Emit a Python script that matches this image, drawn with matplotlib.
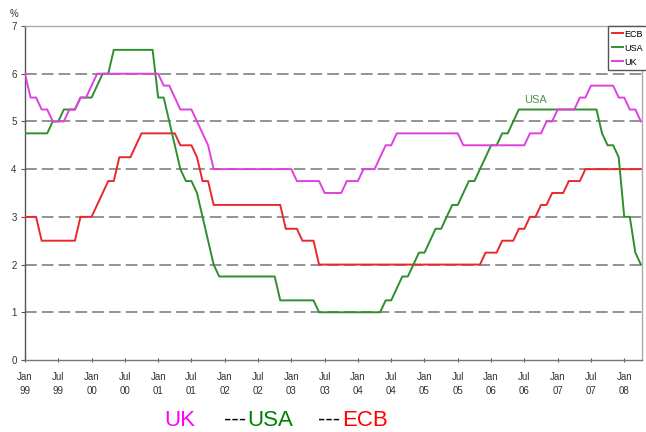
import matplotlib
matplotlib.use("Agg")
import numpy as np
import matplotlib.pyplot as plt

plt.rcParams['font.family'] = ['Liberation Sans', 'DejaVu Sans']

# monthly policy rates, Jan 1999 .. Apr 2008 (%)
ecb = [
    3.0, 3.0, 3.0, 2.5, 2.5, 2.5, 2.5, 2.5, 2.5, 2.5, 3.0, 3.0,            # 1999
    3.0, 3.25, 3.5, 3.75, 3.75, 4.25, 4.25, 4.25, 4.5, 4.75, 4.75, 4.75,   # 2000
    4.75, 4.75, 4.75, 4.75, 4.5, 4.5, 4.5, 4.25, 3.75, 3.75, 3.25, 3.25,   # 2001
    3.25, 3.25, 3.25, 3.25, 3.25, 3.25, 3.25, 3.25, 3.25, 3.25, 3.25, 2.75,  # 2002
    2.75, 2.75, 2.5, 2.5, 2.5, 2.0, 2.0, 2.0, 2.0, 2.0, 2.0, 2.0,          # 2003
    2.0, 2.0, 2.0, 2.0, 2.0, 2.0, 2.0, 2.0, 2.0, 2.0, 2.0, 2.0,            # 2004
    2.0, 2.0, 2.0, 2.0, 2.0, 2.0, 2.0, 2.0, 2.0, 2.0, 2.0, 2.25,           # 2005
    2.25, 2.25, 2.5, 2.5, 2.5, 2.75, 2.75, 3.0, 3.0, 3.25, 3.25, 3.5,      # 2006
    3.5, 3.5, 3.75, 3.75, 3.75, 4.0, 4.0, 4.0, 4.0, 4.0, 4.0, 4.0,         # 2007
    4.0, 4.0, 4.0, 4.0,                                                    # 2008
]
usa = [
    4.75, 4.75, 4.75, 4.75, 4.75, 5.0, 5.0, 5.25, 5.25, 5.25, 5.5, 5.5,    # 1999
    5.5, 5.75, 6.0, 6.0, 6.5, 6.5, 6.5, 6.5, 6.5, 6.5, 6.5, 6.5,           # 2000
    5.5, 5.5, 5.0, 4.5, 4.0, 3.75, 3.75, 3.5, 3.0, 2.5, 2.0, 1.75,         # 2001
    1.75, 1.75, 1.75, 1.75, 1.75, 1.75, 1.75, 1.75, 1.75, 1.75, 1.25, 1.25,  # 2002
    1.25, 1.25, 1.25, 1.25, 1.25, 1.0, 1.0, 1.0, 1.0, 1.0, 1.0, 1.0,       # 2003
    1.0, 1.0, 1.0, 1.0, 1.0, 1.25, 1.25, 1.5, 1.75, 1.75, 2.0, 2.25,       # 2004
    2.25, 2.5, 2.75, 2.75, 3.0, 3.25, 3.25, 3.5, 3.75, 3.75, 4.0, 4.25,    # 2005
    4.5, 4.5, 4.75, 4.75, 5.0, 5.25, 5.25, 5.25, 5.25, 5.25, 5.25, 5.25,   # 2006
    5.25, 5.25, 5.25, 5.25, 5.25, 5.25, 5.25, 5.25, 4.75, 4.5, 4.5, 4.25,  # 2007
    3.0, 3.0, 2.25, 2.0,                                                   # 2008
]
uk = [
    6.0, 5.5, 5.5, 5.25, 5.25, 5.0, 5.0, 5.0, 5.25, 5.25, 5.5, 5.5,        # 1999
    5.75, 6.0, 6.0, 6.0, 6.0, 6.0, 6.0, 6.0, 6.0, 6.0, 6.0, 6.0,           # 2000
    6.0, 5.75, 5.75, 5.5, 5.25, 5.25, 5.25, 5.0, 4.75, 4.5, 4.0, 4.0,      # 2001
    4.0, 4.0, 4.0, 4.0, 4.0, 4.0, 4.0, 4.0, 4.0, 4.0, 4.0, 4.0,            # 2002
    4.0, 3.75, 3.75, 3.75, 3.75, 3.75, 3.5, 3.5, 3.5, 3.5, 3.75, 3.75,     # 2003
    3.75, 4.0, 4.0, 4.0, 4.25, 4.5, 4.5, 4.75, 4.75, 4.75, 4.75, 4.75,     # 2004
    4.75, 4.75, 4.75, 4.75, 4.75, 4.75, 4.75, 4.5, 4.5, 4.5, 4.5, 4.5,     # 2005
    4.5, 4.5, 4.5, 4.5, 4.5, 4.5, 4.5, 4.75, 4.75, 4.75, 5.0, 5.0,         # 2006
    5.25, 5.25, 5.25, 5.25, 5.5, 5.5, 5.75, 5.75, 5.75, 5.75, 5.75, 5.5,   # 2007
    5.5, 5.25, 5.25, 5.0,                                                  # 2008
]
tick_labels = ["Jan\n99", "Jul\n99", "Jan\n00", "Jul\n00", "Jan\n01", "Jul\n01",
               "Jan\n02", "Jul\n02", "Jan\n03", "Jul\n03", "Jan\n04", "Jul\n04",
               "Jan\n05", "Jul\n05", "Jan\n06", "Jul\n06", "Jan\n07", "Jul\n07",
               "Jan\n08"]
y_ticks = [0, 1, 2, 3, 4, 5, 6, 7]

RED = '#e8282c'
GREEN = '#2f8f2f'
PINK = '#e040e0'

months = np.arange(len(ecb))

W, H = 646, 432
fig = plt.figure(figsize=(W / 100, H / 100), dpi=100)
ax = fig.add_axes([25 / W, 72 / H, 617 / W, 334 / H])

# dashed horizontal guides
for v in y_ticks[1:-1]:
    ax.axhline(v, color='#8a8a8a', lw=1.3, linestyle=(0, (6.5, 2.8)), zorder=1)

l_ecb, = ax.plot(months, ecb, color=RED, lw=1.4, label='ECB', zorder=3)
l_usa, = ax.plot(months, usa, color=GREEN, lw=1.4, label='USA', zorder=3)
l_uk, = ax.plot(months, uk, color=PINK, lw=1.4, label='UK', zorder=3)

ax.set_xlim(0, 111.2)
ax.set_ylim(0, 7)
ax.set_yticks(y_ticks)
ax.set_xticks(np.arange(0, 6 * len(tick_labels), 6))
ax.set_xticklabels(tick_labels, linespacing=1.5)
ax.tick_params(axis='both', labelsize=7, labelcolor='#333333', colors='#555555',
               length=3, width=0.8)
ax.tick_params(axis='x', direction='inout', pad=7)
ax.tick_params(axis='y', direction='out', pad=3)

ax.spines['left'].set_color('#555555')
ax.spines['bottom'].set_color('#777777')
ax.spines['top'].set_color('#aaaaaa')
ax.spines['right'].set_color('#aaaaaa')
for s in ax.spines.values():
    s.set_linewidth(1.0)

ax.text(92, 5.45, 'USA', color='#4a9a4a', fontsize=8, ha='center', va='center')

fig.text(14 / W, 1 - 14 / H, '%', fontsize=7, color='#333333', ha='center', va='center')

# legend box runs into the right edge, as in the source
fig.legend(handles=[l_ecb, l_usa, l_uk], loc='upper left',
           bbox_to_anchor=(608 / W, 1 - 26 / H), fontsize=6.5, frameon=True,
           fancybox=False, edgecolor='#555555', framealpha=1,
           borderpad=0.4, handlelength=1.3, handletextpad=0.15, labelspacing=0.55,
           borderaxespad=0)

# colored caption under the chart
cap_y = 6 / H
fig.text(164 / W, cap_y, 'UK', color='#ff00ff', fontsize=16, va='baseline')
fig.text(224 / W, cap_y, '---', color='black', fontsize=16, va='baseline')
fig.text(247 / W, cap_y, 'USA', color='#008000', fontsize=16, va='baseline')
fig.text(318 / W, cap_y, '---', color='black', fontsize=16, va='baseline')
fig.text(342 / W, cap_y, 'ECB', color='#ff0000', fontsize=16, va='baseline')

fig.savefig('out.png', dpi=100)
